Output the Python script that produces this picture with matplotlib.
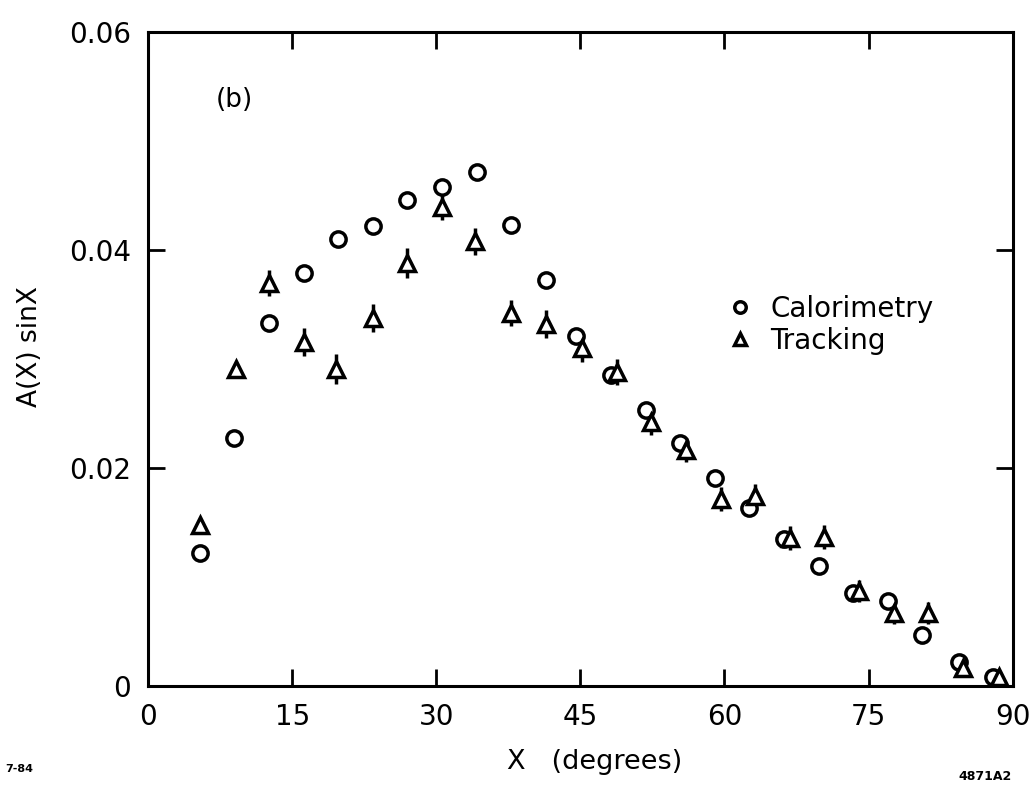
import numpy as np
import matplotlib
matplotlib.use("Agg")
import matplotlib.pyplot as plt

# angolo (gradi) e A(X) sinX per i due metodi
x_cal = [5.4, 9.0, 12.6, 16.2, 19.8, 23.4, 27.0, 30.6, 34.2, 37.8, 41.4, 44.6,
         48.2, 51.8, 55.4, 59.0, 62.6, 66.2, 69.8, 73.4, 77.0, 80.6, 84.4, 88.0]
y_cal = [0.0122, 0.0228, 0.0333, 0.0379, 0.0410, 0.0422, 0.0446, 0.0458,
         0.0472, 0.0423, 0.0373, 0.0321, 0.0285, 0.0253, 0.0223, 0.0191,
         0.0163, 0.0135, 0.0110, 0.0085, 0.0078, 0.0047, 0.0022, 0.0008]

x_trk = [5.4, 9.2, 12.6, 16.2, 19.6, 23.4, 27.0, 30.6, 34.0, 37.8, 41.4, 45.2,
         48.8, 52.4, 56.0, 59.6, 63.2, 66.8, 70.4, 74.0, 77.6, 81.2, 84.8, 88.6]
y_trk = [0.0148, 0.0291, 0.0370, 0.0316, 0.0291, 0.0338, 0.0388, 0.0440,
         0.0408, 0.0342, 0.0332, 0.0310, 0.0288, 0.0242, 0.0217, 0.0172,
         0.0174, 0.0136, 0.0137, 0.0087, 0.0067, 0.0067, 0.0017, 0.0008]
e_trk = [0.0, 0.0, 0.0012, 0.0013, 0.0014, 0.0013, 0.0014, 0.0012,
         0.0012, 0.0012, 0.0013, 0.0013, 0.0012, 0.0012, 0.0011, 0.0011,
         0.0011, 0.0011, 0.0011, 0.0010, 0.0010, 0.0010, 0.0009, 0.0006]

x_ticks = [0, 15, 30, 45, 60, 75, 90]
y_ticks = [0, 0.02, 0.04, 0.06]
y_ticklabels = ["0", "0.02", "0.04", "0.06"]

plt.rcParams['font.family'] = ['DejaVu Sans']

fig = plt.figure(figsize=(10.33, 7.85), dpi=100)
ax = fig.add_axes([0.1433, 0.126, 0.837, 0.833])

ax.errorbar(x_trk, y_trk, yerr=e_trk, fmt='none', ecolor='black',
            elinewidth=2.5, capsize=0, zorder=2)
l1, = ax.plot(x_cal, y_cal, 'o', ms=11, mfc='white', mec='black', mew=2.5,
              ls='none', zorder=3)
l2, = ax.plot(x_trk, y_trk, '^', ms=12, mfc='white', mec='black', mew=2.5,
              ls='none', zorder=3)

ax.set_xlim(0, 90)
ax.set_ylim(0, 0.06)
ax.set_xticks(x_ticks)
ax.set_yticks(y_ticks)
ax.set_yticklabels(y_ticklabels)

for s in ax.spines.values():
    s.set_linewidth(2.2)

ax.tick_params(axis='both', direction='in', length=12, width=2,
               top=True, right=True, labelsize=20, pad=12)
# niente tacche agli angoli
for t in ax.xaxis.get_major_ticks()[::len(x_ticks) - 1]:
    t.tick1line.set_visible(False)
    t.tick2line.set_visible(False)
for t in ax.yaxis.get_major_ticks()[::len(y_ticks) - 1]:
    t.tick1line.set_visible(False)
    t.tick2line.set_visible(False)

ax.set_xlabel("X   (degrees)", fontsize=19.5)
ax.xaxis.set_label_coords(0.517, -0.096)
ax.set_ylabel("A(X) sinX", fontsize=19)
ax.yaxis.set_label_coords(-0.122, 0.52)

ax.text(0.078, 0.885, "(b)", transform=ax.transAxes, fontsize=19)

ax.legend([l1, l2], ["Calorimetry", "Tracking"], loc='upper left',
          bbox_to_anchor=(0.652, 0.62), frameon=False, fontsize=20,
          handlelength=1.0, handletextpad=0.6, labelspacing=0.15,
          borderpad=0, markerscale=0.75)

fig.text(0.005, 0.016, "7-84", fontsize=8, fontweight='bold')
fig.text(0.928, 0.006, "4871A2", fontsize=9, fontweight='bold')

fig.savefig("out.png", dpi=100)
